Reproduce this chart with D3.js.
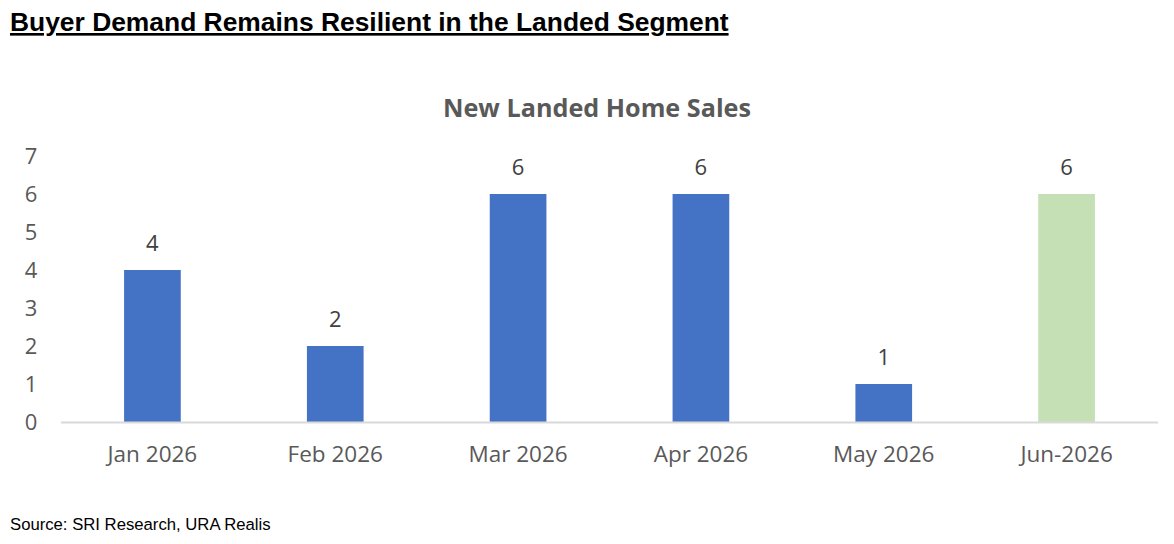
<!DOCTYPE html>
<html>
<head>
<meta charset="utf-8">
<script src="https://cdn.jsdelivr.net/npm/d3@7"></script>
<style>
  body { margin: 0; background: #fff; }
  svg { display: block; }
</style>
</head>
<body>
<script>
// chart data
const months = ["Jan 2026", "Feb 2026", "Mar 2026", "Apr 2026", "May 2026", "Jun-2026"];
const sales = [4, 2, 6, 6, 1, 6];
const barColors = ["#4472C4", "#4472C4", "#4472C4", "#4472C4", "#4472C4", "#C5E0B4"];
const yTicks = [0, 1, 2, 3, 4, 5, 6, 7];

const w = 1174, h = 544;
const plotLeft = 61, plotRight = 1158, plotTop = 156, plotBottom = 422;

const svg = d3.select("body").append("svg")
    .attr("width", w)
    .attr("height", h);

// page title
svg.append("text")
    .attr("x", 10)
    .attr("y", 31)
    .attr("font-family", "Liberation Sans, Arial, sans-serif")
    .attr("font-weight", "bold")
    .attr("font-size", 26.4)
    .attr("text-decoration", "underline")
    .attr("fill", "#000")
    .text("Buyer Demand Remains Resilient in the Landed Segment");

// chart title
svg.append("text")
    .attr("x", 597)
    .attr("y", 117)
    .attr("text-anchor", "middle")
    .attr("font-family", "Open Sans, sans-serif")
    .attr("font-weight", "bold")
    .attr("font-size", 25.2)
    .attr("fill", "#595959")
    .text("New Landed Home Sales");

const x = d3.scaleBand().domain(months).range([plotLeft, plotRight]).paddingInner(0.69).paddingOuter(0.345);
const y = d3.scaleLinear().domain([0, 7]).range([plotBottom, plotTop]);

// y axis labels (no line)
svg.append("g")
    .selectAll("text")
    .data(yTicks)
    .join("text")
    .attr("x", 31)
    .attr("y", d => y(d))
    .attr("dy", "0.35em")
    .attr("text-anchor", "middle")
    .attr("font-family", "Open Sans, sans-serif")
    .attr("font-size", 22)
    .attr("fill", "#595959")
    .text(d => d);

// bars
svg.append("g")
    .selectAll("rect")
    .data(sales)
    .join("rect")
    .attr("x", (d, i) => x(months[i]))
    .attr("y", d => y(d))
    .attr("width", x.bandwidth())
    .attr("height", d => y(0) - y(d))
    .attr("fill", (d, i) => barColors[i]);

// baseline
svg.append("line")
    .attr("x1", plotLeft).attr("x2", plotRight)
    .attr("y1", plotBottom + 0.5).attr("y2", plotBottom + 0.5)
    .attr("stroke", "#D9D9D9")
    .attr("stroke-width", 2);

// value labels
svg.append("g")
    .selectAll("text")
    .data(sales)
    .join("text")
    .attr("x", (d, i) => x(months[i]) + x.bandwidth() / 2)
    .attr("y", d => y(d) - 19)
    .attr("text-anchor", "middle")
    .attr("font-family", "Open Sans, sans-serif")
    .attr("font-size", 22)
    .attr("fill", "#404040")
    .text(d => d);

// x axis labels
svg.append("g")
    .selectAll("text")
    .data(months)
    .join("text")
    .attr("x", d => x(d) + x.bandwidth() / 2)
    .attr("y", 462)
    .attr("text-anchor", "middle")
    .attr("font-family", "Open Sans, sans-serif")
    .attr("font-size", 22.5)
    .attr("fill", "#595959")
    .text(d => d);

// source
svg.append("text")
    .attr("x", 10)
    .attr("y", 530)
    .attr("font-family", "Liberation Sans, Arial, sans-serif")
    .attr("font-size", 16.7)
    .attr("fill", "#000")
    .text("Source: SRI Research, URA Realis");
</script>
</body>
</html>
